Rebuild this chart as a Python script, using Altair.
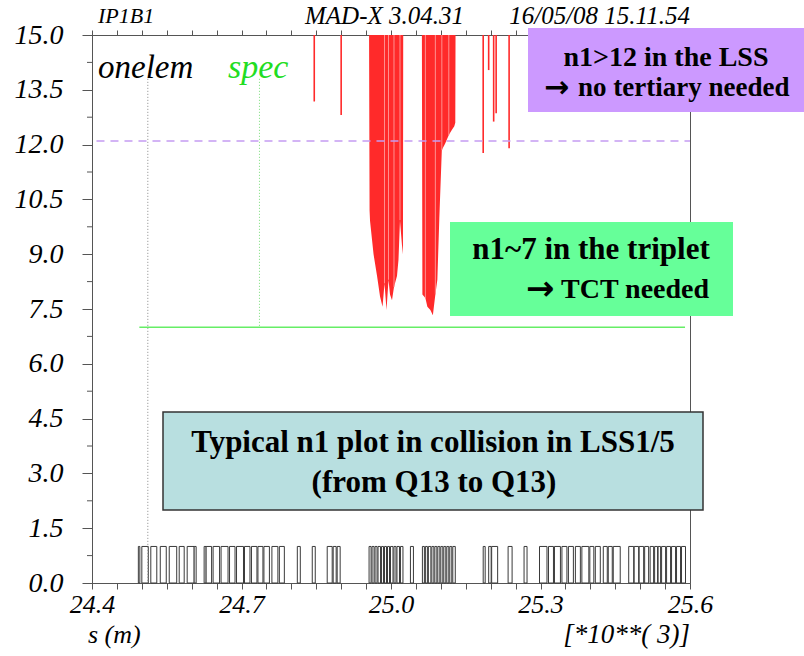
import altair as alt
import pandas as pd

# n1 aperture along s (s in units of 10**3 m), inner-triplet regions left/right of IP1
trip_l_s = [24.956, 24.957, 24.958, 24.965, 24.972, 24.978, 24.983, 24.987, 24.991,
            24.995, 24.998, 25.002, 25.006, 25.012, 25.015, 25.018, 25.022, 25.024, 25.0245]
trip_l_n1 = [15.0, 10.2, 9.9, 9.0, 8.4, 7.84, 7.56, 8.2, 7.47,
             8.3, 7.9, 7.74, 8.1, 8.4, 8.84, 9.93, 9.25, 9.0, 15.0]
trip_r_s = [25.062, 25.063, 25.069, 25.073, 25.079, 25.084, 25.089, 25.093, 25.097,
            25.102, 25.109, 25.116, 25.122, 25.127, 25.129, 25.1295]
trip_r_n1 = [15.0, 7.9, 7.8, 7.56, 7.47, 7.33, 7.9, 8.3, 10.0,
             11.85, 12.04, 12.26, 12.4, 12.5, 12.6, 15.0]

# lighter element boundaries inside the triplet regions
stripe_s = [24.987, 24.995, 25.006, 25.018, 25.069, 25.089, 25.102, 25.116]
stripe_n1 = [8.2, 8.3, 8.1, 9.93, 7.8, 7.9, 11.85, 12.26]

# isolated elements with n1 below 15
spike_s = [24.846, 24.900, 25.185, 25.196, 25.206, 25.211, 25.237]
spike_n1 = [13.18, 12.81, 11.77, 14.04, 12.63, 12.86, 11.9]

# lattice elements (start, end)
elem_start = [24.493, 24.500, 24.518, 24.537, 24.555, 24.575, 24.591, 24.605,
              24.625, 24.629, 24.643, 24.659, 24.676, 24.690, 24.706, 24.720, 24.733, 24.745, 24.761, 24.776,
              24.812, 24.842, 24.872, 24.884, 24.892,
              24.956, 24.962, 24.968, 24.974, 24.981, 24.987, 24.993, 24.999, 25.006, 25.012, 25.019,
              25.039,
              25.063, 25.069, 25.075, 25.082, 25.088, 25.094, 25.100, 25.106, 25.112, 25.118, 25.124,
              25.185, 25.196, 25.202, 25.235, 25.267,
              25.298, 25.316, 25.328, 25.343, 25.356, 25.370, 25.383, 25.399, 25.410, 25.426, 25.436, 25.446,
              25.477, 25.488, 25.498, 25.509, 25.520, 25.529, 25.536, 25.543, 25.553, 25.563, 25.573, 25.583]
elem_end = [24.496, 24.513, 24.530, 24.549, 24.570, 24.585, 24.605, 24.609,
            24.629, 24.640, 24.656, 24.673, 24.687, 24.704, 24.717, 24.731, 24.743, 24.756, 24.773, 24.786,
            24.818, 24.848, 24.882, 24.890, 24.898,
            24.960, 24.966, 24.972, 24.979, 24.985, 24.991, 24.997, 25.004, 25.010, 25.017, 25.024,
            25.045,
            25.067, 25.073, 25.080, 25.086, 25.092, 25.098, 25.104, 25.110, 25.116, 25.122, 25.129,
            25.189, 25.201, 25.214, 25.243, 25.273,
            25.313, 25.326, 25.340, 25.353, 25.366, 25.380, 25.397, 25.407, 25.420, 25.434, 25.444, 25.460,
            25.487, 25.497, 25.507, 25.517, 25.527, 25.535, 25.541, 25.551, 25.561, 25.571, 25.581, 25.591]
elem_height = 1.0

# reference levels
spec_level = 7.0
lss_level = 12.1
onelem_marker_s = 24.512
spec_marker_s = 24.736
marker_top = 13.8

y_major = [0.0, 1.5, 3.0, 4.5, 6.0, 7.5, 9.0, 10.5, 12.0, 13.5, 15.0]
y_minor = [0.75, 2.25, 3.75, 5.25, 6.75, 8.25, 9.75, 11.25, 12.75, 14.25]
x_ticks = [24.40, 24.45, 24.50, 24.55, 24.60, 24.65, 24.70, 24.75, 24.80, 24.85, 24.90, 24.95,
           25.00, 25.05, 25.10, 25.15, 25.20, 25.25, 25.30, 25.35, 25.40, 25.45, 25.50, 25.55, 25.60]

W, H = 598, 548
FONT = "Liberation Serif"
AX = "#555555"
RED = "#ff2a2a"

xs = alt.Scale(domain=[24.4, 25.6], nice=False)
ys = alt.Scale(domain=[0, 15], nice=False)

trip_df = pd.DataFrame({
    "s": trip_l_s + trip_r_s,
    "n1": trip_l_n1 + trip_r_n1,
    "part": ["left"] * len(trip_l_s) + ["right"] * len(trip_r_s),
})
trip_df["top"] = 15.0
stripe_df = pd.DataFrame({"s": stripe_s, "n1": stripe_n1})
stripe_df["top"] = 15.0
spike_df = pd.DataFrame({"s": spike_s, "n1": spike_n1})
spike_df["top"] = 15.0
elem_df = pd.DataFrame({"s0": elem_start, "s1": elem_end})
elem_df["lo"] = 0.0
elem_df["hi"] = elem_height

label_expr = ("abs(datum.value*10 - round(datum.value*10)) < 0.001 && "
              "indexof(['24.4','24.7','25.0','25.3','25.6'], format(datum.value, '.1f')) >= 0 "
              "? format(datum.value, '.1f') : ''")

# axes
x_bottom = alt.Chart(pd.DataFrame({"s": x_ticks})).mark_point(opacity=0).encode(
    x=alt.X("s:Q", scale=xs, axis=alt.Axis(
        orient="bottom", values=x_ticks, labelExpr=label_expr, title=None, tickSize=6,
        labelPadding=2, labelOverlap=False, labelFlush=False, labelFontSize=26)),
)
x_top = alt.Chart(pd.DataFrame({"s": x_ticks})).mark_point(opacity=0).encode(
    x=alt.X("s:Q", scale=xs, axis=alt.Axis(orient="top", values=x_ticks, labels=False,
                                            title=None, tickSize=5)),
)
y_left = alt.Chart(pd.DataFrame({"v": y_major})).mark_point(opacity=0).encode(
    x=alt.value(0),
    y=alt.Y("v:Q", scale=ys, axis=alt.Axis(
        orient="left", values=y_major, format=".1f", title=None, tickSize=10,
        labelPadding=19, labelOverlap=False, labelFlush=False, labelFontSize=28)),
)
minor = alt.Chart(pd.DataFrame({"v": y_minor})).mark_rule(color=AX, strokeWidth=1).encode(
    x=alt.value(-5), x2=alt.value(0),
    y=alt.Y("v:Q", scale=ys, axis=None),
)

# lattice element boxes
elements = alt.Chart(elem_df).mark_rect(fill="white", stroke="#3a3a3a", strokeWidth=1).encode(
    x=alt.X("s0:Q", scale=xs, axis=None),
    x2="s1:Q",
    y=alt.Y("hi:Q", scale=ys, axis=None),
    y2="lo:Q",
)

# n1 of the triplet regions
trip_area = alt.Chart(trip_df).mark_area(color=RED, opacity=1, interpolate="linear").encode(
    x=alt.X("s:Q", scale=xs, axis=None),
    y=alt.Y("n1:Q", scale=ys, axis=None),
    y2="top:Q",
    detail="part:N",
)
trip_stripes = alt.Chart(stripe_df).mark_rule(color="#ff9090", strokeWidth=1).encode(
    x=alt.X("s:Q", scale=xs, axis=None),
    y=alt.Y("n1:Q", scale=ys, axis=None),
    y2="top:Q",
)
spikes = alt.Chart(spike_df).mark_rule(color=RED, strokeWidth=1.6).encode(
    x=alt.X("s:Q", scale=xs, axis=None),
    y=alt.Y("n1:Q", scale=ys, axis=None),
    y2="top:Q",
)

markers = pd.DataFrame({
    "s": [onelem_marker_s, spec_marker_s],
    "top": [marker_top, marker_top],
    "bottom": [0.0, spec_level],
    "kind": ["onelem", "spec"],
})
marker_lines = alt.Chart(markers).mark_rule(strokeWidth=1, strokeDash=[1, 2]).encode(
    x=alt.X("s:Q", scale=xs, axis=None),
    y=alt.Y("top:Q", scale=ys, axis=None),
    y2="bottom:Q",
    color=alt.Color("kind:N", scale=alt.Scale(domain=["onelem", "spec"], range=["#888888", "#77dd77"]),
                    legend=None),
)

spec_line = alt.Chart(pd.DataFrame({"s0": [24.495], "s1": [25.59], "v": [spec_level]})).mark_rule(
    color="#66ee66", strokeWidth=1.6).encode(
    x=alt.X("s0:Q", scale=xs, axis=None), x2="s1:Q",
    y=alt.Y("v:Q", scale=ys, axis=None),
)
lss_line = alt.Chart(pd.DataFrame({"s0": [24.409], "s1": [25.6], "v": [lss_level]})).mark_rule(
    color="#c59cf2", strokeWidth=1.5, strokeDash=[8, 6]).encode(
    x=alt.X("s0:Q", scale=xs, axis=None), x2="s1:Q",
    y=alt.Y("v:Q", scale=ys, axis=None),
)


def box(x0, x1, y0, y1, fill, stroke=None):
    kw = dict(fill=fill)
    if stroke:
        kw.update(stroke=stroke, strokeWidth=1.5)
    return alt.Chart(pd.DataFrame({"a": [0]})).mark_rect(**kw).encode(
        x=alt.value(x0), x2=alt.value(x1), y=alt.value(y0), y2=alt.value(y1))


def label(text, x, y, size, color="black", italic=False, bold=False, align="center", font=FONT):
    kw = dict(font=font, fontSize=size, color=color, align=align, baseline="middle")
    if italic:
        kw["fontStyle"] = "italic"
    if bold:
        kw["fontWeight"] = "bold"
    return alt.Chart(pd.DataFrame({"t": [text]})).mark_text(**kw).encode(
        text="t:N", x=alt.value(x), y=alt.value(y))


ARROW_FONT = "DejaVu Sans"
notes = [
    box(436, 712, -7, 77, "#cc99ff"),
    label("n1>12 in the LSS", 574, 23, 28, bold=True),
    label("\u2192", 452, 53, 30, bold=True, align="left", font=ARROW_FONT),
    label("no tertiary  needed", 486, 53, 27, bold=True, align="left"),
    box(358, 641, 187, 281, "#66ff99"),
    label("n1~7 in the triplet", 499, 215, 31, bold=True),
    label("\u2192", 434, 255, 34, bold=True, align="left", font=ARROW_FONT),
    label("TCT needed", 469, 255, 28, bold=True, align="left"),
    box(71, 611, 377, 475, "#b8dfe0", stroke="#333333"),
    label("Typical n1 plot in collision in LSS1/5", 341, 408, 31, bold=True),
    label("(from Q13 to Q13)", 342, 448, 31, bold=True),
    label("IP1B1", 6, -19, 22, italic=True, align="left"),
    label("MAD-X 3.04.31", 213, -19, 25, italic=True, align="left"),
    label("16/05/08 15.11.54", 598, -19, 25, italic=True, align="right"),
    label("onelem", 6, 33, 33, italic=True, align="left"),
    label("spec", 136, 33, 34, color="#22dd22", italic=True, align="left"),
    label("s (m)", -4, 600, 26, italic=True, align="left"),
    label("[*10**( 3)]", 598, 600, 27, italic=True, align="right"),
]

chart = alt.layer(
    x_bottom, x_top, y_left, minor,
    elements, trip_area, trip_stripes, spikes,
    marker_lines, spec_line, lss_line, *notes,
).resolve_axis(x="independent", y="independent").properties(
    width=W, height=H,
    autosize=alt.AutoSizeParams(type="none"),
    padding={"left": 92, "top": 35, "right": 114, "bottom": 73},
    background="white",
).configure_view(stroke=AX, strokeWidth=1).configure_axis(
    domainColor=AX, tickColor=AX, grid=False,
    labelFont=FONT, labelFontStyle="italic", labelColor="black",
)

chart.save("out.html", embed_options={"renderer": "svg", "actions": False})
